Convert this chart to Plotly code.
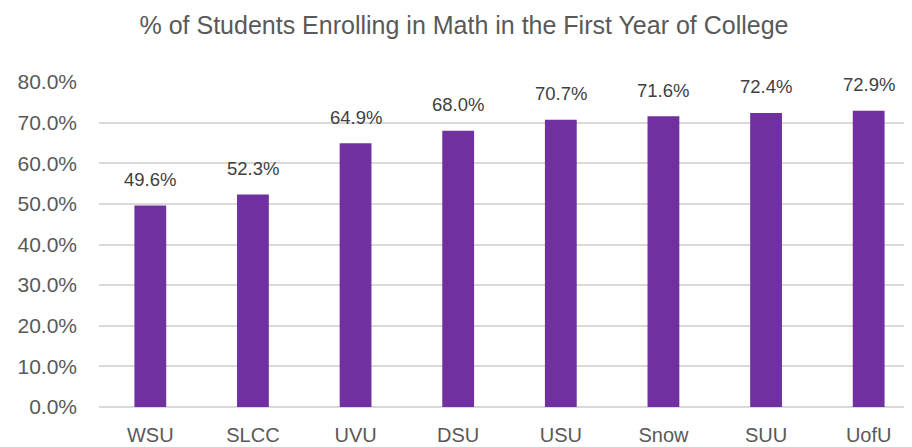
import plotly.graph_objects as go

categories = ["WSU", "SLCC", "UVU", "DSU", "USU", "Snow", "SUU", "UofU"]
values = [49.6, 52.3, 64.9, 68.0, 70.7, 71.6, 72.4, 72.9]
tick_vals = [0, 10, 20, 30, 40, 50, 60, 70, 80]
tick_text = [f"{v:.1f}%" for v in tick_vals]
title = "% of Students Enrolling in Math in the First Year of College"

FONT = "Liberation Sans, Arial, sans-serif"

fig = go.Figure(go.Bar(
    x=categories, y=values, marker=dict(color="#7030A0", line=dict(width=0)),
    width=0.31, hoverinfo="skip",
))

for c, v in zip(categories, values):
    fig.add_annotation(x=c, y=v, text=f"{v:.1f}%", showarrow=False, yshift=26,
                       font=dict(family=FONT, size=18.5, color="#404040"))

fig.update_layout(
    width=912, height=447,
    margin=dict(l=91, r=0, t=74, b=48, autoexpand=False),
    paper_bgcolor="white", plot_bgcolor="white",
    showlegend=False,
    title=dict(text=title, x=0.5, xanchor="center", y=0.962, yanchor="middle",
               font=dict(family=FONT, size=25, color="#595959")),
    xaxis=dict(range=[-0.5, 7.5], showgrid=False, showline=False, ticks="",
               tickfont=dict(family=FONT, size=20, color="#595959"),
               ticklabelstandoff=14),
    yaxis=dict(range=[0, 80], tickvals=tick_vals, ticktext=tick_text,
               showgrid=True, gridcolor="#D9D9D9", gridwidth=1.5, zeroline=True,
               zerolinecolor="#D9D9D9", zerolinewidth=1.5, showline=False, ticks="",
               tickfont=dict(family=FONT, size=21, color="#595959"),
               ticklabelstandoff=21),
)

fig.write_html("out.html")
